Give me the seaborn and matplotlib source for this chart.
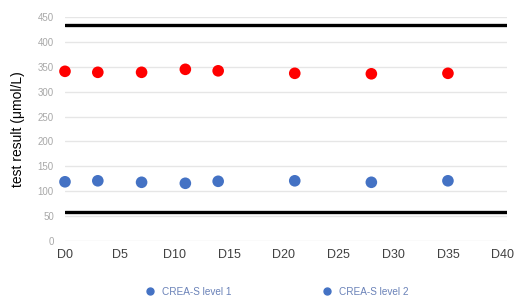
import matplotlib
matplotlib.use("Agg")
import matplotlib.pyplot as plt
from matplotlib.lines import Line2D
import seaborn as sns
import pandas as pd

# values
days = [0, 3, 7, 11, 14, 21, 28, 35]
level1 = [119, 121, 118, 116, 120, 121, 118, 121]
level2 = [341, 339, 339, 345, 342, 337, 336, 337]
limits = [434, 58]
series_names = ["CREA-S level 1", "CREA-S level 2"]
x_ticks = list(range(0, 41, 5))
x_labels = [f"D{d}" for d in x_ticks]
y_ticks = list(range(0, 451, 50))

df = pd.DataFrame({
    "day": days + days,
    "value": level1 + level2,
    "series": [series_names[0]] * len(days) + [series_names[1]] * len(days),
})

sns.set_style("white")
plt.rcParams["font.family"] = ["Liberation Sans", "DejaVu Sans"]

fig = plt.figure(figsize=(5.17, 3.01), dpi=100)
ax = fig.add_axes([0.1257, 0.1993, 0.855, 0.744])

palette = {series_names[0]: "#4472C4", series_names[1]: "#FF0000"}
sns.scatterplot(data=df, x="day", y="value", hue="series", palette=palette,
                s=70, edgecolor="none", legend=False, ax=ax, clip_on=False, zorder=3)

for lim in limits:
    ax.axhline(lim, color="black", linewidth=2.4, zorder=2)

ax.set_xlim(0, 40.4)
ax.set_ylim(0, 450)
ax.set_xticks(x_ticks)
ax.set_xticklabels(x_labels)
ax.set_yticks(y_ticks)
ax.yaxis.grid(True, color="#e6e6e6", linewidth=1)
ax.xaxis.grid(False)
for sp in ax.spines.values():
    sp.set_visible(False)
ax.tick_params(axis="x", colors="#404040", labelsize=9, length=0, pad=6)
ax.tick_params(axis="y", colors="#a8a8a8", labelsize=7, length=0, pad=8)
ax.set_xlabel("")
ax.set_ylabel("test result (μmol/L)", fontsize=10, color="black", labelpad=9)

handles = [Line2D([], [], marker="o", linestyle="none", color="#4472C4", markersize=5)
           for _ in series_names]
leg = fig.legend(handles, series_names, loc="lower center", ncol=2, frameon=False,
                 fontsize=7.2, bbox_to_anchor=(0.53, -0.015), columnspacing=8.5,
                 handletextpad=0.2)
for t in leg.get_texts():
    t.set_color("#6a82b8")

fig.savefig("out.png", dpi=100)
